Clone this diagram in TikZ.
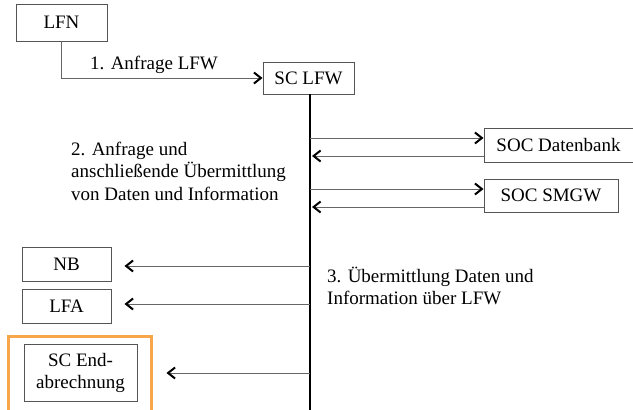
\documentclass[tikz,border=0pt]{standalone}
\usepackage{fontspec}
\newfontfamily\tms{Liberation Serif}
\usetikzlibrary{arrows.meta}
\definecolor{boxline}{HTML}{555555}
\definecolor{conn}{HTML}{666666}
\definecolor{hl}{HTML}{F7A64A}
\tikzset{
  box/.style={draw=boxline, line width=0.9pt, fill=white, inner sep=0pt, align=center, font=\tms\fontsize{19}{22}\selectfont},
  lbl/.style={inner sep=0pt, align=left, anchor=west, font=\tms\fontsize{19}{22.5}\selectfont},
  conn/.style={draw=conn, line width=1pt, -{Straight Barb[length=7pt,width=11pt,line width=2pt,color=black]}},
  bus/.style={draw=black, line width=2.5pt}
}
\begin{document}
\begin{tikzpicture}[x=1pt,y=-1pt]
\useasboundingbox (0,0) rectangle (633,410);
\node[box, minimum width=91pt, minimum height=37pt] (lfn) at (61.5,22.5) {LFN};
\node[box, minimum width=91pt, minimum height=32pt] (sclfw) at (308.5,78) {SC LFW};
\node[box, minimum width=149pt, minimum height=34pt] (db) at (558.5,145) {SOC Datenbank};
\node[box, minimum width=134pt, minimum height=33pt] (smgw) at (551,195.5) {SOC SMGW};
\node[box, minimum width=89pt, minimum height=34pt] (nb) at (66.5,264) {NB};
\node[box, minimum width=89pt, minimum height=34pt] (lfa) at (66.5,306) {LFA};
\node[box, minimum width=113pt, minimum height=57pt] (end) at (80.5,372.5) {SC End-\\abrechnung};
\draw[hl, line width=3pt] (8,336) -- (151,336) -- (151,420) (8,334.5) -- (8,420);

\node[lbl] (t1) at (90,65) {1. Anfrage LFW};
\node[lbl] (t2) at (71,171) {2. Anfrage und\\anschließende Übermittlung\\von Daten und Information};
\node[lbl] (t3) at (327,286) {3. Übermittlung Daten und\\Information über LFW};

\draw[conn] (lfn.south) |- (sclfw.west);

\coordinate (bend) at (310,410);
\draw[bus] (sclfw.south -| bend) -- (bend);

\coordinate (b1) at (310,138);
\coordinate (b2) at (310,156);
\coordinate (b3) at (310,189);
\coordinate (b4) at (310,207);
\coordinate (b5) at (310,266);
\coordinate (b6) at (310,304);
\coordinate (b7) at (310,373);
\draw[conn] (b1) -- (b1 -| db.west);
\draw[conn] (b2 -| db.west) -- ([xshift=2pt]b2);
\draw[conn] (b3) -- (b3 -| smgw.west);
\draw[conn] (b4 -| smgw.west) -- ([xshift=2pt]b4);
\draw[conn] (b5) -- ([xshift=13pt]b5 -| nb.east);
\draw[conn] (b6) -- ([xshift=13pt]b6 -| lfa.east);
\draw[conn] (b7) -- ([xshift=29pt]b7 -| end.east);
\end{tikzpicture}
\end{document}
